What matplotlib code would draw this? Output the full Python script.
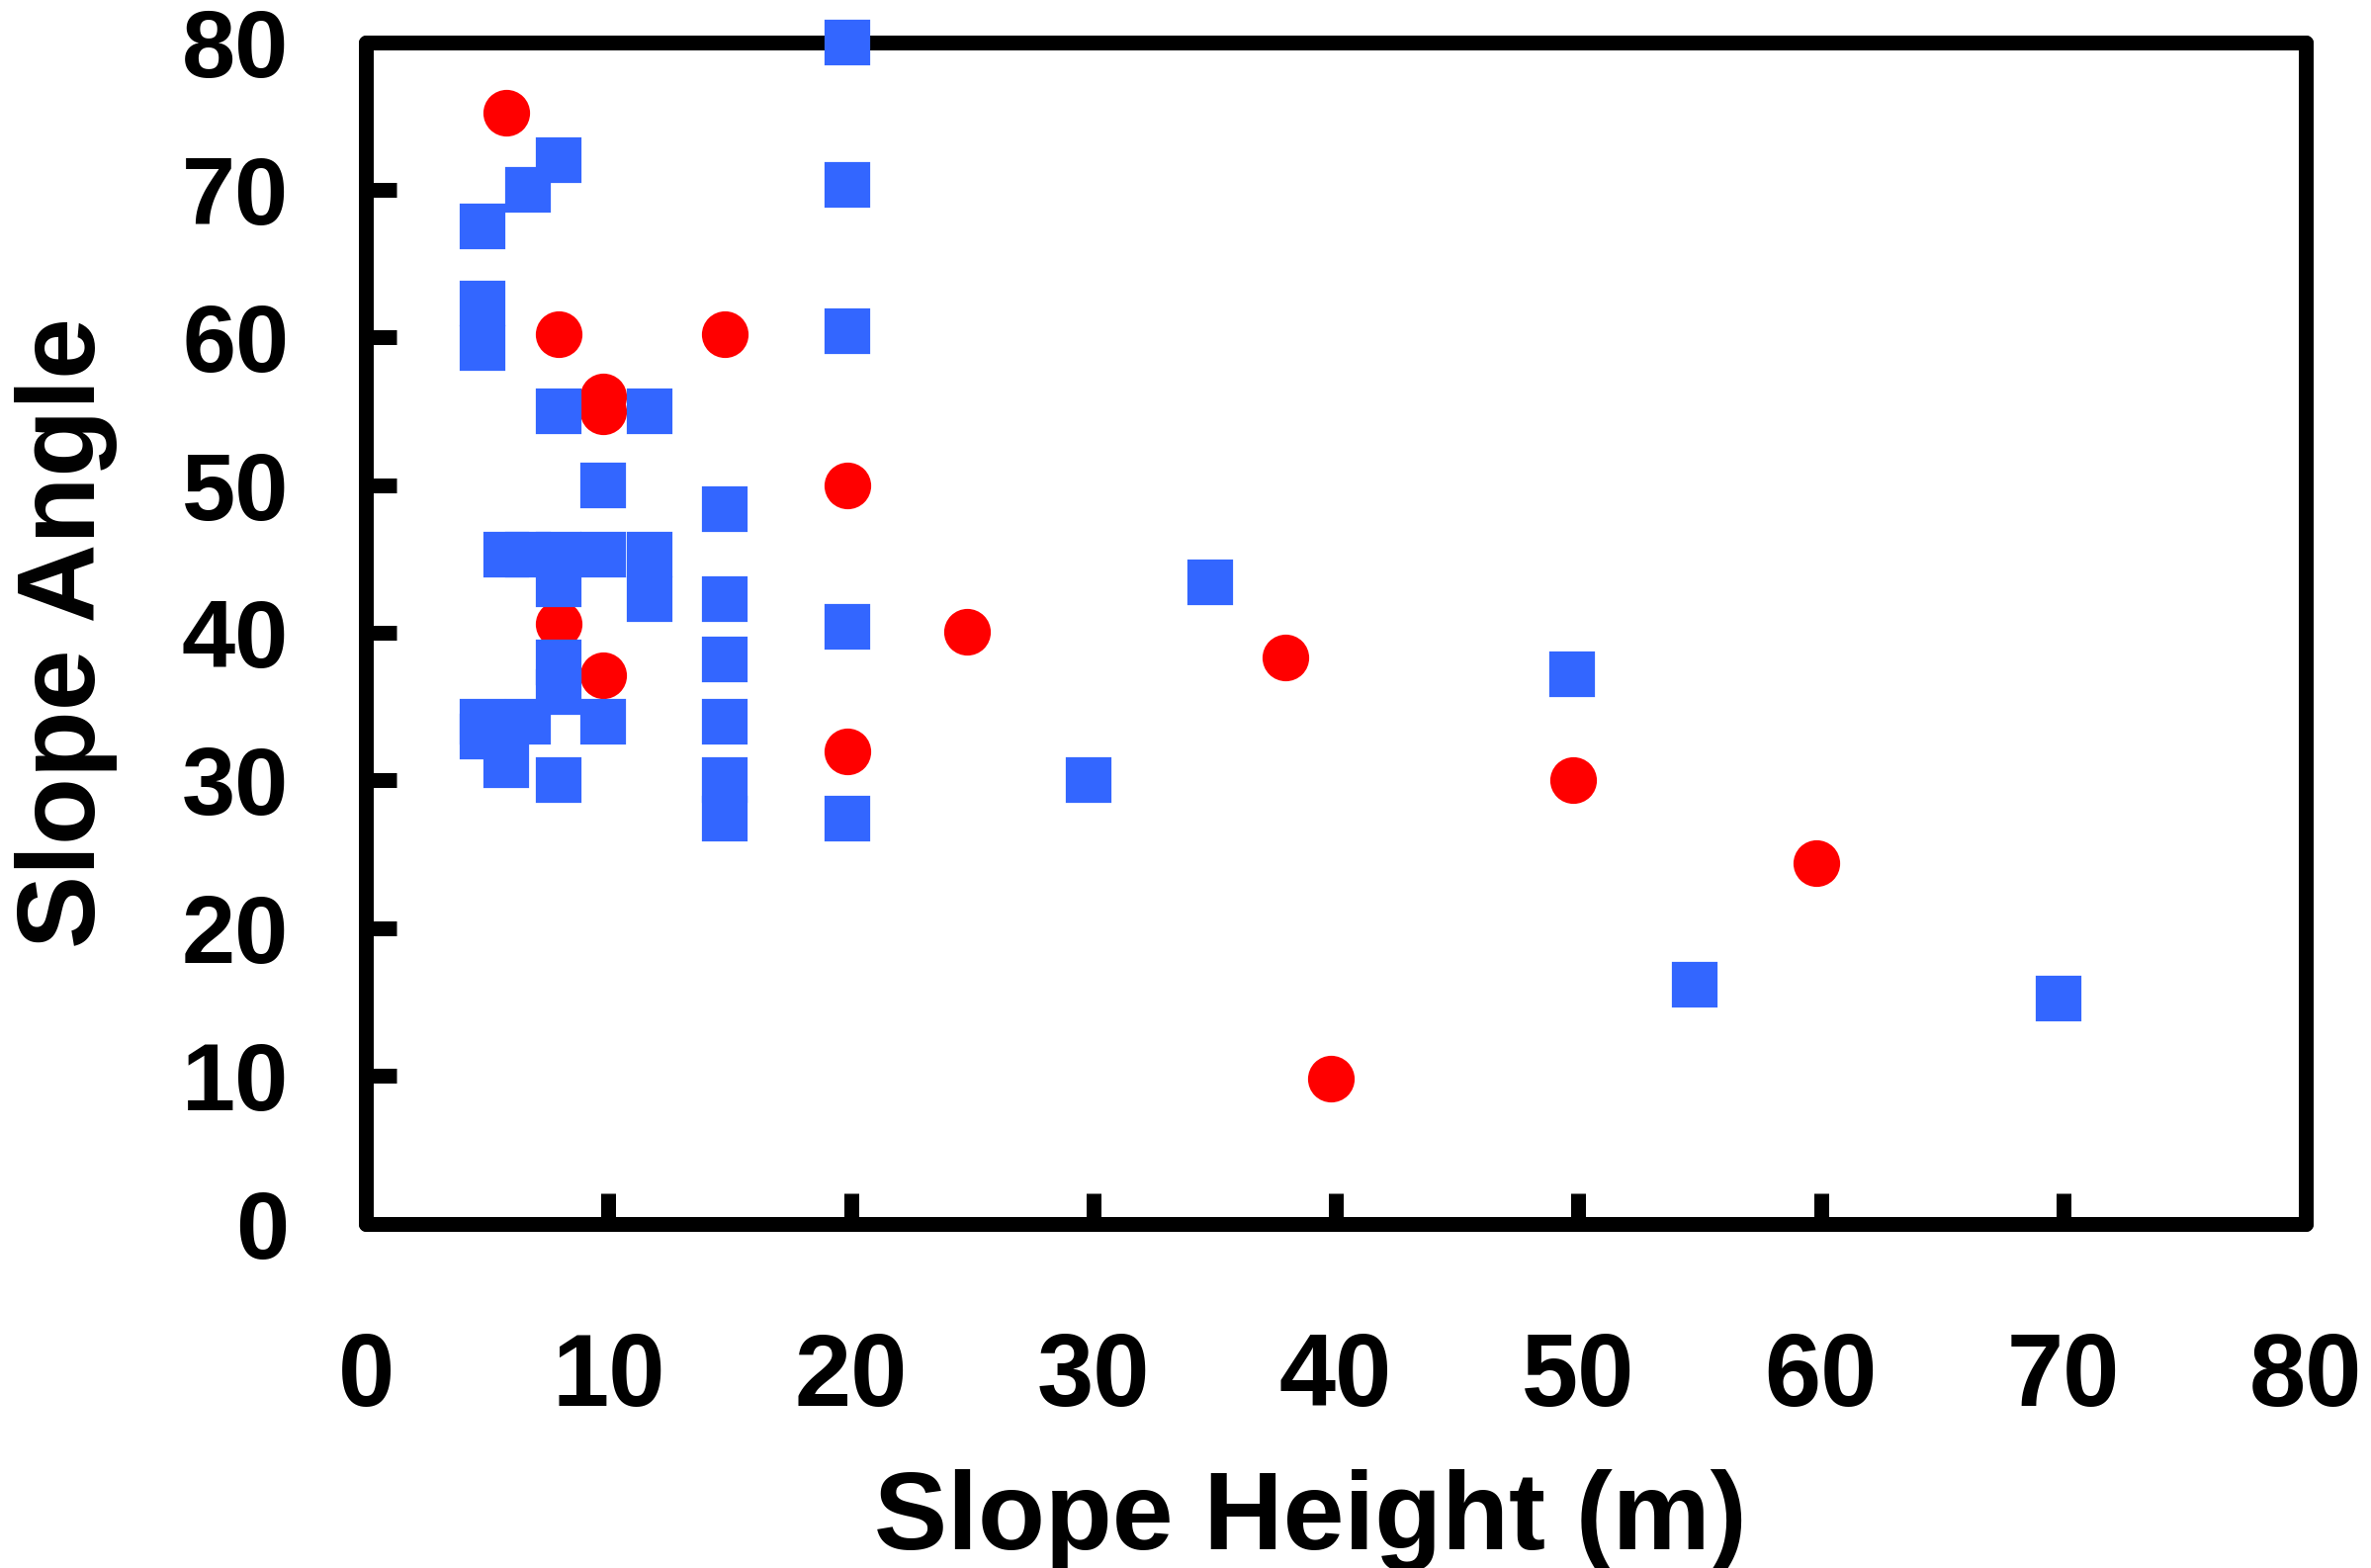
import matplotlib
matplotlib.use('Agg')
import matplotlib.pyplot as plt

# blue squares
blue_x = [4.8, 4.8, 4.8, 4.8, 4.8,
          5.8, 5.8,
          6.7, 6.7, 6.7,
          7.95, 7.95, 7.95, 7.95, 7.95, 7.95, 7.95,
          9.8, 9.8, 9.8,
          11.7, 11.7, 11.7,
          14.8, 14.8, 14.8, 14.8, 14.8, 14.8,
          19.85, 19.85, 19.85, 19.85, 19.85,
          29.8, 34.8, 49.75, 54.8, 69.8]
blue_y = [67.5, 62.3, 59.3, 34, 33,
          45.3, 31,
          70, 45.3, 34,
          72, 55, 45.3, 43.3, 38, 36, 30,
          50, 45.3, 34,
          55, 45.3, 42.3,
          48.4, 42.3, 38.2, 34, 30, 27.4,
          80, 70.3, 60.4, 40.4, 27.4,
          30, 43.4, 37.2, 16.2, 15.2]

# red circles
red_x = [5.8, 7.95, 14.8, 9.8, 9.8, 19.85, 7.95, 9.8, 24.8, 19.85, 37.9, 39.8, 49.8, 59.8]
red_y = [75.2, 60.2, 60.2, 56, 55, 50, 40.6, 37.1, 40.1, 32, 38.3, 9.8, 30, 24.4]

xticks = [0, 10, 20, 30, 40, 50, 60, 70, 80]
yticks = [0, 10, 20, 30, 40, 50, 60, 70, 80]

plt.rcParams['font.family'] = ['Liberation Sans', 'DejaVu Sans']
plt.rcParams['font.weight'] = 'bold'

fig = plt.figure(figsize=(23.98, 15.86), dpi=100)
ax = fig.add_axes([0.1543, 0.2197, 0.8182, 0.7535])

ax.plot(red_x, red_y, 'o', color='#ff0000', markersize=34, markeredgewidth=0,
        clip_on=False, zorder=3)
ax.plot(blue_x, blue_y, 's', color='#3366ff', markersize=32, markeredgewidth=1.6,
        markeredgecolor='#3366ff', clip_on=False, zorder=4)

ax.set_xlim(0, 80)
ax.set_ylim(0, 80)
ax.set_xticks(xticks)
ax.set_yticks(yticks)
ax.set_xticklabels([str(t) for t in xticks], fontsize=74, fontweight='bold')
ax.set_yticklabels([str(t) for t in yticks], fontsize=70, fontweight='bold')
ax.tick_params(axis='x', direction='in', length=22, width=10.8, pad=79)
ax.tick_params(axis='y', direction='in', length=22, width=10.8, pad=56)
for s in ax.spines.values():
    s.set_linewidth(10.8)
    s.set_capstyle('round')

ax.set_xlabel('Slope Height (m)', fontsize=80, fontweight='bold', labelpad=30)
ax.xaxis.label.set_x(0.487)
ax.set_ylabel('Slope Angle', fontsize=80, fontweight='bold', labelpad=47)

plt.savefig('out.png', dpi=100)
plt.close()
